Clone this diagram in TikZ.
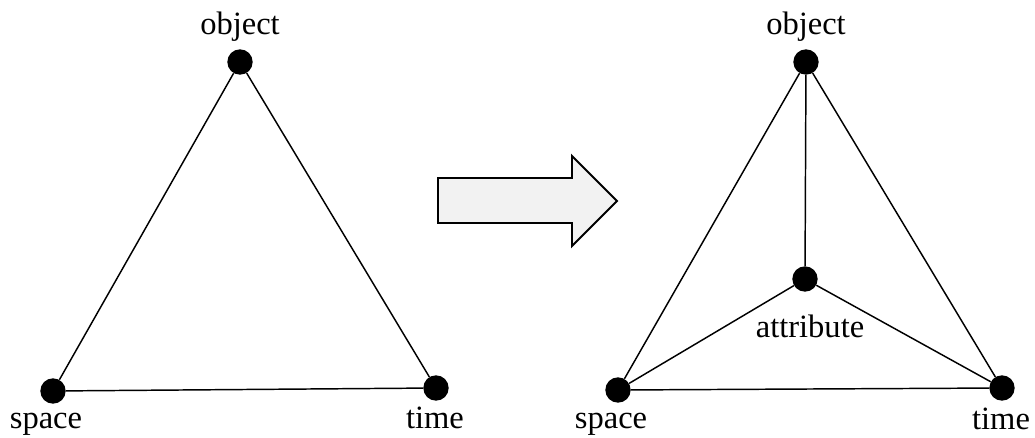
\documentclass[tikz,border=0pt]{standalone}
\usepackage{fontspec}
\setmainfont{Liberation Serif}
\usepackage{xcolor}
\usepackage{tikz}
\usetikzlibrary{positioning}
\definecolor{arrowgrey}{RGB}{242,242,242}
\tikzset{
  dot/.style   ={circle, fill=black, inner sep=0pt, minimum size=19pt},
  lbl/.style   ={font=\fontsize{24.4}{29}\selectfont, anchor=base, inner sep=0pt},
  edge/.style  ={draw=black, line width=1.1pt},
  bigarrow/.style ={draw=black, fill=arrowgrey, line width=1.4pt, line join=miter},
}
\begin{document}
\begin{tikzpicture}[x=0.75pt,y=-0.75pt]
\useasboundingbox (0,0) rectangle (1035,438);

% left triangle
\node[dot] (lobj) at (240,62) {};
\node[dot] (lspace) at (53,391) {};
\node[dot] (ltime) at (436,388) {};
\draw[edge] (lobj) -- (lspace) -- (ltime) -- (lobj);
\node[lbl] (lobjtxt) at (240,35) {object};
\node[lbl] (lspacetxt) at (46,428) {space};
\node[lbl] (ltimetxt) at (435,428) {time};

% arrow
\draw[bigarrow] (438,178) -- (572,178) -- (572,156) -- (617,201)
   -- (572,246) -- (572,223) -- (438,223) -- cycle;

% right tetrahedron
\node[dot] (robj) at (806,62) {};
\node[dot] (rattr) at (805,279) {};
\node[dot] (rspace) at (618,390) {};
\node[dot] (rtime) at (1002,388) {};
\draw[edge] (robj) -- (rspace) -- (rtime) -- (robj);
\draw[edge] (robj) -- (rattr);
\draw[edge] (rattr) -- (rspace);
\draw[edge] (rattr) -- (rtime);
\node[lbl] (robjtxt) at (806,35) {object};
\node[lbl] (rattrtxt) at (810,337) {attribute};
\node[lbl] (rspacetxt) at (611,428) {space};
\node[lbl] (rtimetxt) at (1001,429) {time};
\end{tikzpicture}
\end{document}
